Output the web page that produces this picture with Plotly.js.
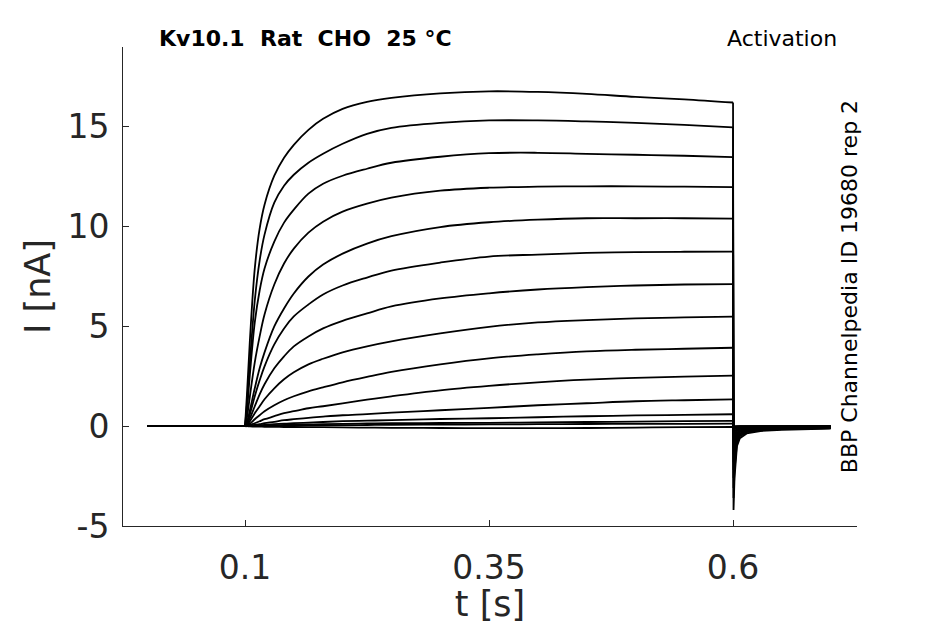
<!DOCTYPE html>
<html>
<head>
<meta charset="utf-8">
<script src="https://cdn.plot.ly/plotly-3.0.1.min.js"></script>
<style>
  html, body { margin: 0; padding: 0; background: #fff; }
  #chart { width: 945px; height: 624px; }
</style>
</head>
<body>
<div id="chart"></div>
<script>
// sample times (s): holding, step onset, step, tail after 0.6 s
var time = [0, 0.1, 0.102, 0.105, 0.11, 0.115, 0.12, 0.13, 0.14, 0.15, 0.165, 0.18, 0.2, 0.225, 0.25,
            0.3, 0.35, 0.4, 0.45, 0.5, 0.55, 0.6,
            0.6005, 0.6015, 0.6025, 0.604, 0.607, 0.614, 0.628, 0.65, 0.7];

// current (nA) of each sweep, largest first
var sweep1  = [0, 0, 1.6, 4.3, 7.9, 9.9, 11.1, 12.55, 13.45, 14.1, 14.85, 15.4, 15.9, 16.25, 16.45,
               16.68, 16.78, 16.75, 16.65, 16.5, 16.38, 16.22,
               -4.2, -2.6, -1.8, -1.0, -0.6, -0.36, -0.24, -0.18, -0.12];
var sweep2  = [0, 0, 1.1, 3.2, 6.3, 8.3, 9.6, 11.2, 12.05, 12.6, 13.2, 13.65, 14.15, 14.65, 14.95,
               15.2, 15.32, 15.32, 15.27, 15.2, 15.1, 14.97,
               -3.6, -2.2, -1.5, -0.85, -0.5, -0.3, -0.2, -0.15, -0.1];
var sweep3  = [0, 0, 0.8, 2.6, 5.2, 6.8, 7.9, 9.25, 10.2, 10.85, 11.65, 12.15, 12.55, 12.9, 13.2,
               13.5, 13.68, 13.7, 13.65, 13.6, 13.55, 13.48,
               -3.1, -1.9, -1.3, -0.72, -0.43, -0.26, -0.17, -0.13, -0.09];
var sweep4  = [0, 0, 0.45, 1.5, 3.2, 4.5, 5.6, 7.1, 8.15, 8.9, 9.7, 10.25, 10.75, 11.15, 11.45,
               11.8, 11.95, 12.0, 12.02, 12.02, 12.0, 11.98,
               -2.6, -1.6, -1.1, -0.6, -0.36, -0.22, -0.15, -0.11, -0.08];
var sweep5  = [0, 0, 0.2, 0.8, 1.9, 2.9, 3.7, 5.0, 5.9, 6.65, 7.5, 8.1, 8.65, 9.15, 9.52,
               9.98, 10.22, 10.35, 10.42, 10.42, 10.42, 10.4,
               -2.2, -1.3, -0.9, -0.5, -0.3, -0.18, -0.12, -0.09, -0.07];
var sweep6  = [0, 0, 0.15, 0.6, 1.5, 2.3, 3.0, 4.1, 4.9, 5.5, 6.1, 6.6, 7.05, 7.45, 7.8,
               8.2, 8.5, 8.6, 8.68, 8.72, 8.74, 8.75,
               -1.8, -1.1, -0.75, -0.42, -0.25, -0.15, -0.1, -0.08, -0.06];
var sweep7  = [0, 0, 0.1, 0.4, 1.0, 1.6, 2.1, 2.9, 3.5, 4.0, 4.5, 4.9, 5.28, 5.65, 6.0,
               6.4, 6.66, 6.85, 6.97, 7.05, 7.1, 7.12,
               -1.4, -0.85, -0.6, -0.33, -0.2, -0.12, -0.08, -0.06, -0.05];
var sweep8  = [0, 0, 0.05, 0.25, 0.65, 1.0, 1.35, 1.9, 2.35, 2.7, 3.1, 3.38, 3.7, 4.0, 4.25,
               4.65, 4.98, 5.2, 5.32, 5.4, 5.45, 5.49,
               -1.05, -0.65, -0.45, -0.25, -0.15, -0.09, -0.06, -0.05, -0.04];
var sweep9  = [0, 0, 0.03, 0.12, 0.35, 0.55, 0.75, 1.05, 1.3, 1.5, 1.75, 1.95, 2.2, 2.47, 2.72,
               3.1, 3.4, 3.6, 3.75, 3.83, 3.88, 3.93,
               -0.75, -0.45, -0.32, -0.18, -0.11, -0.07, -0.05, -0.04, -0.03];
var sweep10 = [0, 0, 0.01, 0.05, 0.15, 0.25, 0.35, 0.5, 0.65, 0.75, 0.9, 1.0, 1.14, 1.33, 1.5,
               1.8, 2.02, 2.2, 2.33, 2.42, 2.48, 2.53,
               -0.5, -0.3, -0.21, -0.12, -0.08, -0.05, -0.04, -0.03, -0.02];
var sweep11 = [0, 0, 0, 0.02, 0.06, 0.1, 0.15, 0.22, 0.3, 0.35, 0.42, 0.48, 0.55, 0.61, 0.68,
               0.8, 0.92, 1.05, 1.15, 1.25, 1.3, 1.34,
               -0.28, -0.17, -0.12, -0.07, -0.05, -0.03, -0.02, -0.02, -0.01];
var sweep12 = [0, 0, 0, 0.01, 0.03, 0.05, 0.07, 0.1, 0.13, 0.15, 0.18, 0.21, 0.25, 0.28, 0.3,
               0.36, 0.4, 0.45, 0.5, 0.54, 0.57, 0.6,
               -0.14, -0.09, -0.06, -0.04, -0.03, -0.02, -0.01, -0.01, 0];
var sweep13 = [0, 0, 0, 0, 0.01, 0.02, 0.03, 0.05, 0.06, 0.07, 0.09, 0.1, 0.12, 0.14, 0.15,
               0.16, 0.17, 0.19, 0.21, 0.23, 0.25, 0.27,
               -0.07, -0.05, -0.03, -0.02, -0.01, -0.01, 0, 0, 0];
var sweep14 = [0, 0, 0, 0, 0, 0.01, 0.01, 0.02, 0.03, 0.03, 0.04, 0.05, 0.05, 0.06, 0.07,
               0.08, 0.09, 0.1, 0.11, 0.12, 0.12, 0.13,
               -0.03, -0.02, -0.01, 0, 0, 0, 0, 0, 0];
var sweep15 = [0, 0, 0, -0.01, -0.02, -0.02, -0.03, -0.03, -0.04, -0.04, -0.05, -0.05, -0.06, -0.07, -0.08,
               -0.09, -0.1, -0.1, -0.09, -0.07, -0.05, -0.04,
               0, 0, 0, 0, 0, 0, 0, 0, 0];

var sweeps = [sweep1, sweep2, sweep3, sweep4, sweep5, sweep6, sweep7, sweep8,
              sweep9, sweep10, sweep11, sweep12, sweep13, sweep14, sweep15];

var xTicks = [0.1, 0.35, 0.6];
var xTickText = ['0.1', '0.35', '0.6'];
var yTicks = [-5, 0, 5, 10, 15];
var yTickText = ['-5', '0', '5', '10', '15'];

var ink = '#262626';
var font = 'DejaVu Sans, sans-serif';

// index of step start (0.1 s) and step end (0.6 s) in time
var iOn = 1, iOff = 21;

var data = [];
sweeps.forEach(function (s) {
  var line = {color: '#000', width: 1.8};
  // holding level, linear
  data.push({x: time.slice(0, iOn + 1), y: s.slice(0, iOn + 1), type: 'scatter', mode: 'lines',
             line: line, hoverinfo: 'skip'});
  // step, smoothed through the read points
  data.push({x: time.slice(iOn, iOff + 1), y: s.slice(iOn, iOff + 1), type: 'scatter', mode: 'lines',
             line: {color: '#000', width: 1.8, shape: 'spline', smoothing: 1}, hoverinfo: 'skip'});
  // tail, linear
  data.push({x: time.slice(iOff), y: s.slice(iOff), type: 'scatter', mode: 'lines',
             line: line, hoverinfo: 'skip'});
});

var layout = {
  width: 945,
  height: 624,
  margin: {l: 123, r: 88, t: 47, b: 98},
  paper_bgcolor: '#fff',
  plot_bgcolor: '#fff',
  showlegend: false,
  font: {family: font, color: ink},
  xaxis: {
    range: [-0.025, 0.727],
    tickvals: xTicks,
    ticktext: xTickText,
    ticks: 'inside',
    ticklen: 6,
    tickcolor: ink,
    tickfont: {size: 33, color: ink},
    ticklabelstandoff: 12,
    showline: true,
    linecolor: ink,
    linewidth: 1,
    showgrid: false,
    zeroline: false,
    title: {text: 't [s]', font: {size: 35, color: ink}, standoff: 4}
  },
  yaxis: {
    range: [-5, 19],
    tickvals: yTicks,
    ticktext: yTickText,
    ticks: 'inside',
    ticklen: 6,
    tickcolor: ink,
    tickfont: {size: 33, color: ink},
    ticklabelstandoff: 6,
    showline: true,
    linecolor: ink,
    linewidth: 1,
    showgrid: false,
    zeroline: false,
    title: {text: 'I [nA]', font: {size: 35, color: ink}, standoff: 6}
  },
  annotations: [
    {
      text: '<b>Kv10.1  Rat  CHO  25 °C</b>',
      xref: 'paper', yref: 'paper', x: 0.046, y: 1.017,
      xanchor: 'left', yanchor: 'middle', showarrow: false,
      font: {size: 22, color: '#000', family: font}
    },
    {
      text: 'Activation',
      xref: 'paper', yref: 'paper', x: 0.975, y: 1.017,
      xanchor: 'right', yanchor: 'middle', showarrow: false,
      font: {size: 22, color: '#000', family: font}
    },
    {
      text: 'BBP Channelpedia ID 19680 rep 2',
      xref: 'paper', yref: 'paper', x: 0.99, y: 0.5,
      xanchor: 'center', yanchor: 'middle', showarrow: false, textangle: -90,
      font: {size: 22, color: '#000', family: font}
    }
  ]
};

Plotly.newPlot('chart', data, layout, {staticPlot: true, displayModeBar: false});
</script>
</body>
</html>
